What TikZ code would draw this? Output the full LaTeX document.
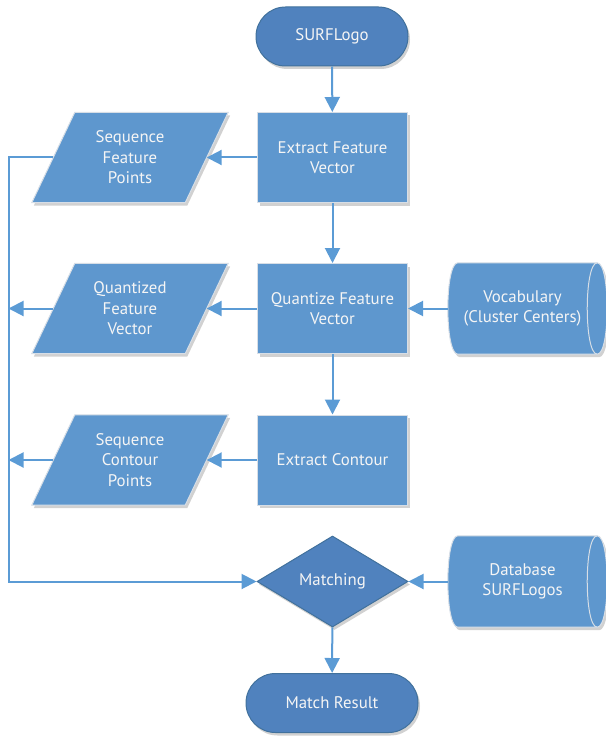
\documentclass[tikz,border=0pt]{standalone}
\usepackage{fontspec}
\setmainfont{PT Sans}
\usetikzlibrary{shapes.geometric,shapes.misc,shadows,arrows.meta,calc,backgrounds}
\definecolor{boxfill}{RGB}{94,151,206}
\definecolor{termfill}{RGB}{80,130,190}
\definecolor{termdraw}{RGB}{65,113,156}
\definecolor{boxdraw}{RGB}{215,222,230}
\definecolor{linec}{RGB}{91,155,213}
\definecolor{txt}{RGB}{245,245,245}
\begin{document}
\begin{tikzpicture}[x=1pt,y=-1pt,
  shad/.style={drop shadow={shadow xshift=2pt,shadow yshift=-3pt,opacity=0.3,fill=black!60}},
  base/.style={font=\fontsize{16.8}{20.5}\selectfont, text=txt, align=center, inner sep=0pt},
  procbox/.style={base, rectangle, fill=boxfill, draw=boxdraw, line width=1pt, minimum width=150pt, minimum height=90pt, shad},
  iobox/.style={base, rectangle, minimum width=196pt, minimum height=90pt},
  term/.style={base, rounded rectangle, fill=termfill, draw=termdraw, line width=1pt, minimum height=59pt, shad},
  decision/.style={base, diamond, aspect=1.66, fill=termfill, draw=termdraw, line width=1pt, minimum width=151pt, minimum height=91pt, shad},
  store/.style={base, minimum width=149pt, minimum height=91pt},
  storeshape/.style={fill=boxfill, draw=boxdraw, line width=1pt, shad},
  conn/.style={draw=linec, line width=2pt, -{Triangle[length=15pt,width=15pt]}}
]
\useasboundingbox (0,0) rectangle (605,738);

\node[term, minimum width=152pt] (start) at (332,36.5) {SURFLogo};
\node[procbox] (efv) at (332.5,157.5) {Extract Feature\\Vector};
\node[iobox] (sfp) at (130,157.5) {Sequence\\Feature\\Points};
\node[procbox] (quant) at (332.5,308.5) {Quantize Feature\\Vector};
\node[iobox] (qfv) at (130,308.5) {Quantized\\Feature\\Vector};
\node[store] (voc) at (522.5,308.5) {Vocabulary\\(Cluster Centers)};
\node[procbox] (ec) at (332.5,460) {Extract Contour};
\node[iobox] (scp) at (130,460) {Sequence\\Contour\\Points};
\node[decision] (match) at (332.5,581.5) {Matching};
\node[store] (db) at (522.5,581.5) {Database\\SURFLogos};
\node[term, minimum width=172pt] (result) at (332,703) {Match Result};

\begin{scope}[on background layer]
\foreach \n in {voc,db}{
  \path[storeshape]
    ($(\n.north west)+(10,0)$) -- (\n.north east)
    .. controls ($(\n.north east)+(13.3,0)$) and ($(\n.south east)+(13.3,0)$) .. (\n.south east)
    -- ($(\n.south west)+(10,0)$)
    .. controls ($(\n.south west)+(-3.3,0)$) and ($(\n.north west)+(-3.3,0)$) .. cycle;
  \draw[boxdraw, line width=1pt] (\n.north east)
    .. controls ($(\n.north east)+(-13.3,0)$) and ($(\n.south east)+(-13.3,0)$) .. (\n.south east);
}
\foreach \n in {sfp,qfv,scp}{
  \path[storeshape]
    ($(\n.north west)+(43,0)$) -- (\n.north east)
    -- ($(\n.south east)+(-43,0)$) -- (\n.south west) -- cycle;
}
\end{scope}

\coordinate (bt) at (8.5,157.5);
\coordinate (bq) at (8.5,308.5);
\coordinate (bs) at (8.5,460);
\coordinate (bb) at (8.5,581.5);

\draw[conn] (start) -- (efv);
\draw[conn] (efv) -- ($(sfp.east)+(-21.5,0)$);
\draw[conn] (efv) -- (quant);
\draw[conn] (quant) -- ($(qfv.east)+(-21.5,0)$);
\draw[conn] (voc) -- (quant);
\draw[conn] (quant) -- (ec);
\draw[conn] (ec) -- ($(scp.east)+(-21.5,0)$);
\draw[conn] ($(qfv.west)+(21.5,0)$) -- (bq);
\draw[conn] ($(scp.west)+(21.5,0)$) -- (bs);
\draw[conn] ($(sfp.west)+(21.5,0)$) -- (bt) -- (bb) -- (match);
\draw[conn] (db) -- (match);
\draw[conn] (match) -- (result);
\end{tikzpicture}
\end{document}
